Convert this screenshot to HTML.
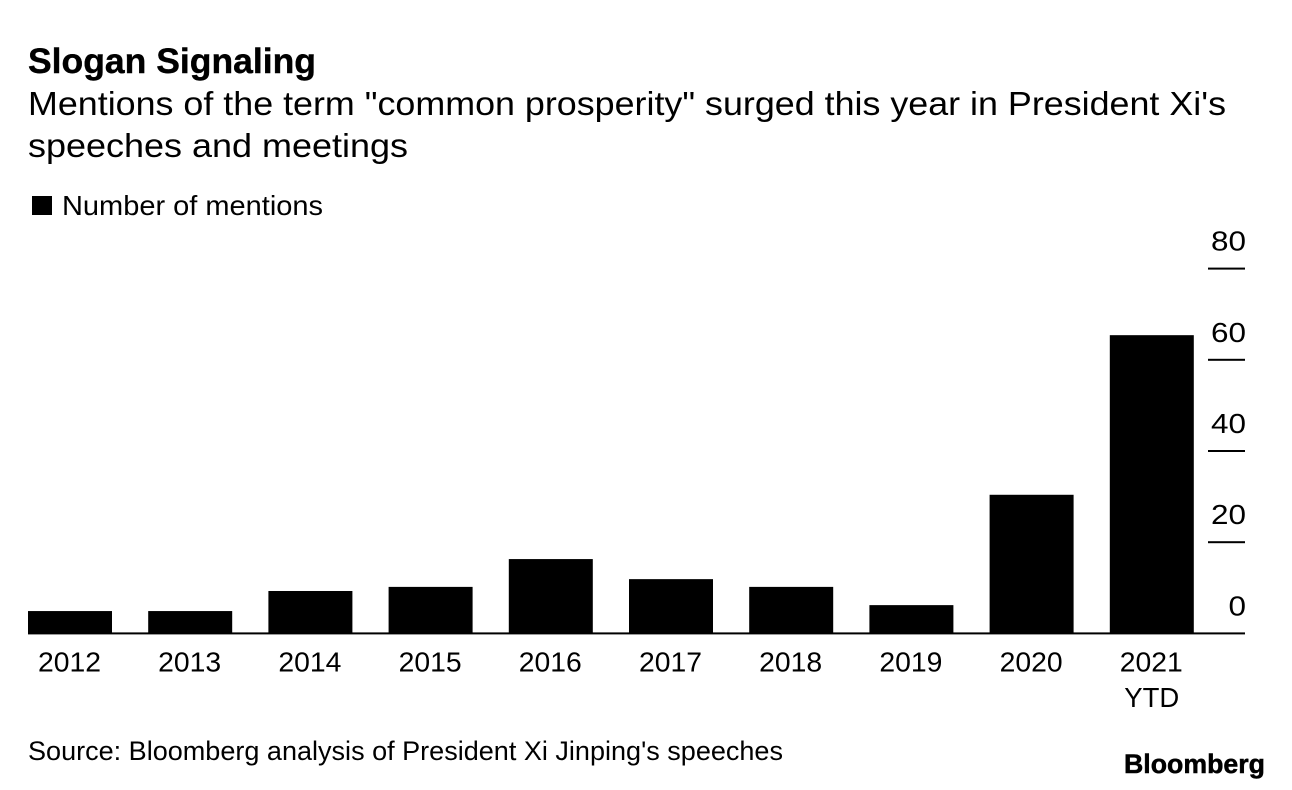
<!DOCTYPE html>
<html>
<head>
<meta charset="utf-8">
<style>
html,body{margin:0;padding:0;background:#fff;width:1292px;height:790px;overflow:hidden}
svg{display:block}
text{font-family:"Liberation Sans",sans-serif;fill:#000}
</style>
</head>
<body>
<svg id="chart" width="1292" height="790" viewBox="0 0 1292 790" xmlns="http://www.w3.org/2000/svg">
  <text x="28" y="73" font-size="35" font-weight="700" stroke="#000" stroke-width="0.4" textLength="288" lengthAdjust="spacingAndGlyphs">Slogan Signaling</text>
  <text x="28" y="115" font-size="33" textLength="1198" lengthAdjust="spacingAndGlyphs">Mentions of the term "common prosperity" surged this year in President Xi's</text>
  <text x="28" y="157" font-size="33" textLength="380" lengthAdjust="spacingAndGlyphs">speeches and meetings</text>
  <rect x="32" y="196" width="20" height="19" fill="#000"/>
  <text x="62" y="215" font-size="27.5" textLength="261" lengthAdjust="spacingAndGlyphs">Number of mentions</text>
  <g id="bars"></g>
  <g id="y-axis"></g>
  <g id="x-axis"></g>
  <text x="28" y="760" font-size="26.5" textLength="755" lengthAdjust="spacingAndGlyphs">Source: Bloomberg analysis of President Xi Jinping's speeches</text>
  <text x="1124" y="773" font-size="27" font-weight="700" stroke="#000" stroke-width="0.5" textLength="141" lengthAdjust="spacingAndGlyphs">Bloomberg</text>
</svg>
<script>
const categories = ['2012','2013','2014','2015','2016','2017','2018','2019','2020','2021'];
const categorySublabels = ['','','','','','','','','','YTD'];
const mentions = [4.9,4.9,9.3,10.2,16.3,11.9,10.2,6.2,30.4,65.4];
const yTickValues = [0,20,40,60,80];

const NS = 'http://www.w3.org/2000/svg';
const plotLeft = 28, bandStep = 120.2, barWidth = 84;
const zeroY = 633.4, pxPerUnit = 4.56;
function yScale(v){ return zeroY - v * pxPerUnit; }
function xScale(i){ return plotLeft + i * bandStep; }
function make(tag, attrs, parent){
  const el = document.createElementNS(NS, tag);
  for (const k in attrs) el.setAttribute(k, attrs[k]);
  parent.appendChild(el);
  return el;
}
const barsG = document.getElementById('bars');
const yG = document.getElementById('y-axis');
const xG = document.getElementById('x-axis');







mentions.forEach(function(v, i){
  const bar = make('rect', {x: xScale(i), y: yScale(v), width: barWidth, height: zeroY - yScale(v), fill: '#000'}, barsG);
  
  
  const label = make('text', {x: xScale(i) + barWidth / 2 - 0.5, y: 671.5, 'font-size': 27.5, 'text-anchor': 'middle', textLength: 63, lengthAdjust: 'spacingAndGlyphs'}, xG);
  label.textContent = categories[i];
  
  
  if (categorySublabels[i]) {
    const sub = make('text', {x: xScale(i) + barWidth / 2, y: 707, 'font-size': 27.5, 'text-anchor': 'middle'}, xG);
    sub.textContent = categorySublabels[i];
    
    
  }
});

yTickValues.forEach(function(v){
  const y = yScale(v);
  const isBase = v === 0;
  const tick = make('rect', {x: isBase ? 28 : 1208, y: y - 1, width: isBase ? 1217 : 37, height: 2, fill: '#000'}, yG);
  
  
  const text = String(v);
  const label = make('text', {x: 1246, y: y - 18, 'font-size': 27.5, 'text-anchor': 'end', textLength: text.length * 17.5, lengthAdjust: 'spacingAndGlyphs'}, yG);
  label.textContent = text;
  
  
});
</script>
</body>
</html>
